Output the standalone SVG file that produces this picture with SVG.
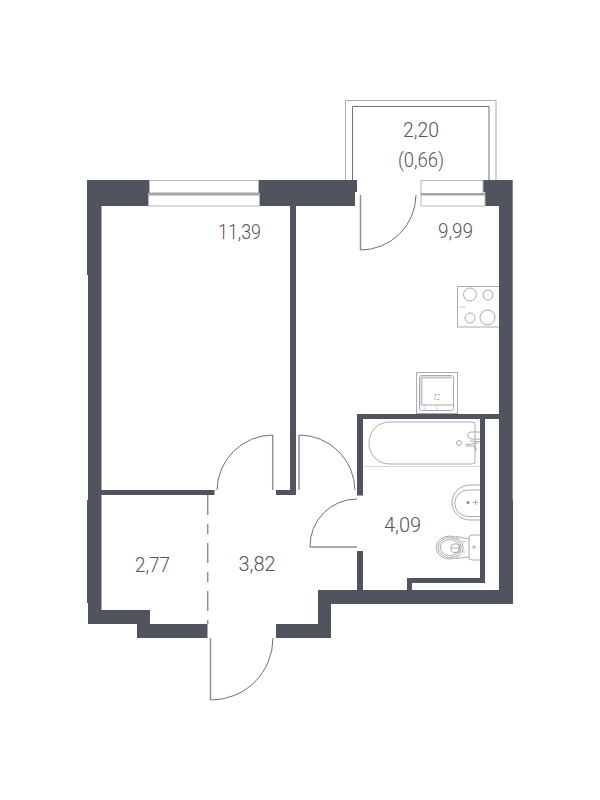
<svg xmlns="http://www.w3.org/2000/svg" width="600" height="800" viewBox="0 0 600 800">
<style>
.w{fill:#50545f}
.l{fill:none;stroke:#8e9097;stroke-width:1.5}
.d{fill:none;stroke:#6d7079;stroke-width:1}
.f{fill:none;stroke:#a9abb0;stroke-width:1}
.g{fill:none;stroke:#c4c5c9;stroke-width:2}
.win{fill:#fff;stroke:#b4b6ba;stroke-width:1}
text{font-family:"Roboto","Liberation Sans",sans-serif;font-weight:300;font-size:20.500px;fill:#50545f;text-anchor:middle}
</style>
<rect width="600" height="800" fill="#fff"/>
<g id="walls">
<path class="w" d="M87 180H149V206H101.500V490H214.500V495H101.500V610H150V624H207.500V638H137V624H88V603H87V500H88V275H87Z"/>
<path class="w" d="M259 180H357V192H355V206H296V495H276V490H290V206H259Z"/>
<path class="w" d="M483 180H512.700V500H513V604H499V419H485V583H412V590H499V604H331V638H276V624H318V590H407V578H480V419H363V495.500H357V414H499V206H485V192H483Z"/>
<rect class="w" x="357" y="551" width="6" height="39"/>
</g>
<g id="windows">
<rect class="win" x="149.500" y="180.500" width="109" height="13"/>
<rect class="win" x="148.500" y="193.500" width="111" height="12.500"/>
<rect x="148.500" y="192.500" width="111" height="3" fill="#a2a4a9"/>
<rect class="win" x="421" y="180.500" width="62" height="13"/>
<rect class="win" x="421" y="193.500" width="64" height="12.500"/>
<rect x="421" y="193" width="64" height="2.500" fill="#a2a4a9"/>
</g>
<g id="balcony">
<path class="f" d="M345.500 180V100.500H496V180"/>
<path class="d" d="M352.500 180V106.500H489V180"/>
<text x="421" y="137" textLength="36" lengthAdjust="spacingAndGlyphs">2,20</text>
<text x="421" y="167" textLength="46" lengthAdjust="spacingAndGlyphs">(0,66)</text>
</g>
<g id="connectors">
<path class="l" d="M360.500 195V250"/>
<path class="d" d="M360.500 250A55.500 55.500 0 0 0 416 195"/>
<path class="l" d="M272.700 435V490"/>
<path class="d" d="M272.700 435A56 56 0 0 0 217 490"/>
<path class="l" d="M299 435V490"/>
<path class="d" d="M299 435A56 56 0 0 1 355 490"/>
<path class="l" d="M310 547H357"/>
<path class="d" d="M310 547A47 47 0 0 1 357 499"/>
<path class="l" d="M210.500 638V700"/>
<path class="d" d="M210.500 700A62 62 0 0 0 273 638"/>
<path d="M207.700 495V624" fill="none" stroke="#8e9097" stroke-width="1.500" stroke-dasharray="20 9 10 9"/>
</g>
<g id="stove">
<path class="f" d="M499 286.500H457.500V327H499"/>
<circle class="f" cx="470" cy="294.500" r="6.500"/>
<circle class="f" cx="488" cy="295" r="5"/>
<circle class="f" cx="470" cy="318" r="5"/>
<circle class="f" cx="487.500" cy="317.500" r="7.500"/>
<path class="f" d="M461 306V308M464 306V308"/>
</g>
<g id="washer">
<rect class="f" x="416.500" y="372.500" width="41" height="41"/>
<rect class="f" x="419.500" y="375.500" width="34" height="35" rx="2"/>
<path class="g" d="M421.500 405V377.500H452"/>
<path class="f" d="M421 405H453"/>
<path class="f" d="M440 394.500H435V399.500H440" stroke-dasharray="2 1"/>
<path class="f" d="M425 406V409M437 406V409" stroke-dasharray="1 1"/>
</g>
<g id="bath">
<path class="f" d="M390 422H472Q475 422 475 425V461Q475 464 472 464H390C378 464 369 455 369 443C369 431 378 422 390 422Z"/>
<path d="M363 466.500H480" fill="none" stroke="#d5d6d9"/>
<circle class="f" cx="459" cy="443" r="2.500"/>
<path class="f" d="M480 432H470Q467 433 468 437Q470 440 480 439M480 442L470 441M465 445L478 443M466 446H474L477 449M474 446L476 451"/>
</g>
<g id="sink">
<path class="f" d="M480 485H470A18 17.500 0 0 0 470 520H480"/>
<path class="f" d="M480 490H468A13 13 0 0 0 468 516.500H480"/>
<circle cx="468" cy="502.500" r="1.500" fill="#8e9097"/>
<path class="f" d="M475.500 500V505M473 502.500H478"/>
</g>
<g id="toilet">
<ellipse class="f" cx="449.700" cy="547.500" rx="13.500" ry="11.500"/>
<ellipse class="f" cx="449.700" cy="547.500" rx="11.500" ry="10"/>
<ellipse class="f" cx="449.700" cy="547.500" rx="9.500" ry="8"/>
<rect class="f" x="451" y="544" width="9" height="8.500" rx="3"/>
<path class="f" d="M451 548H460"/>
<path class="f" d="M480 535H472Q469 535 469 538V557Q469 560 472 560H480"/>
<path class="f" d="M456 536.500L469 539M456 558.500L469 557"/>
<path class="f" d="M472 547H476M474 545V549M463 541.500H465M463 552H465"/>
</g>
<g id="labels">
<text x="239.500" y="239" textLength="43" lengthAdjust="spacingAndGlyphs">11,39</text>
<text x="455.500" y="238" textLength="35" lengthAdjust="spacingAndGlyphs">9,99</text>
<text x="402.500" y="532" textLength="37" lengthAdjust="spacingAndGlyphs">4,09</text>
<text x="152.500" y="572" textLength="35" lengthAdjust="spacingAndGlyphs">2,77</text>
<text x="257" y="571" textLength="37" lengthAdjust="spacingAndGlyphs">3,82</text>
</g>
</svg>
